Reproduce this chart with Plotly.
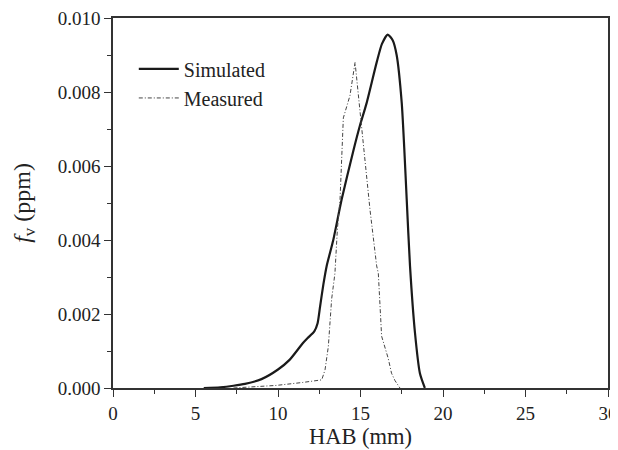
import plotly.graph_objects as go

# Simulated soot volume fraction (ppm) vs HAB (mm)
sim_hab = [5.5, 6.5, 7.3, 8.0, 9.0, 10.0, 10.7, 11.5, 11.8, 12.2, 12.4,
           12.55, 12.75, 12.95, 13.35, 13.86, 14.56, 14.97, 15.37, 15.98, 16.3,
           16.65, 16.95, 17.19, 17.5, 17.65, 17.8, 18.0, 18.3, 18.6, 18.9]
sim_fv = [0.0, 0.00002, 0.00006, 0.00011, 0.00024, 0.0005, 0.00076, 0.00121,
          0.00135, 0.00153, 0.00175, 0.0022, 0.0028, 0.0033, 0.0040,
          0.0051, 0.0064, 0.0071, 0.0077, 0.0088, 0.0093, 0.00955, 0.0094,
          0.0090, 0.0077, 0.0065, 0.0051, 0.0033, 0.0015, 0.0004, 0.0]

# Measured soot volume fraction (ppm) vs HAB (mm)
meas_hab = [7.3, 9.9, 11.5, 12.65, 12.85, 13.05, 13.25, 13.45, 13.6, 13.76,
            13.96, 14.36, 14.67, 14.87, 15.07, 15.27, 15.47, 15.58, 15.98,
            16.08, 16.28, 16.68, 16.88, 17.09, 17.39]
meas_fv = [0.0, 0.00007, 0.00015, 0.00022, 0.00049, 0.00112, 0.0024, 0.0031,
           0.0043, 0.0051, 0.0073, 0.0079, 0.0088, 0.0079, 0.0069, 0.0062,
           0.0051, 0.0048, 0.0033, 0.0031, 0.0014, 0.0008, 0.0004, 0.0002, 0.0]

x_ticks = [0, 5, 10, 15, 20, 25, 30]
y_ticks = [0.000, 0.002, 0.004, 0.006, 0.008, 0.010]
y_tick_labels = ["0.000", "0.002", "0.004", "0.006", "0.008", "0.010"]

FONT = "Liberation Serif, Times New Roman, serif"
AX = "#333333"

fig = go.Figure()
fig.add_trace(go.Scatter(
    x=sim_hab, y=sim_fv, mode="lines", name="Simulated",
    line=dict(color="#1a1a1a", width=2.2, shape="spline", smoothing=0.6),
))
fig.add_trace(go.Scatter(
    x=meas_hab, y=meas_fv, mode="lines", name="Measured",
    line=dict(color="#444444", width=1, dash="4px,2px,1px,2px"),
))

axis_common = dict(
    showgrid=False, zeroline=False, showline=True, linecolor=AX, linewidth=1.5,
    mirror=True, ticks="outside", ticklen=7, tickwidth=1.2, tickcolor=AX,
    tickfont=dict(family=FONT, size=19, color="#222222"), automargin=False,
    ticklabeloverflow="allow",
)

fig.update_xaxes(
    range=[0, 30], tickvals=x_ticks,
    minor=dict(ticks="outside", dtick=2.5, ticklen=4, tickwidth=1.2, tickcolor=AX),
    title=dict(text="HAB (mm)", font=dict(family=FONT, size=22.5, color="#222222"), standoff=6),
    **axis_common,
)
fig.update_yaxes(
    range=[0, 0.010], tickvals=y_ticks, ticktext=y_tick_labels,
    minor=dict(ticks="outside", dtick=0.001, ticklen=4, tickwidth=1.2, tickcolor=AX),
    title=dict(text="<i>f</i><sub>v</sub> (ppm)", font=dict(family=FONT, size=24, color="#222222"), standoff=20),
    **axis_common,
)

fig.update_layout(
    width=610, height=442,
    margin=dict(l=105, r=10, t=10, b=62),
    paper_bgcolor="white", plot_bgcolor="white",
    showlegend=True,
    legend=dict(
        x=0.042, y=0.915, xanchor="left", yanchor="top",
        bgcolor="rgba(255,255,255,0)", borderwidth=0,
        font=dict(family=FONT, size=20, color="#222222"),
        tracegroupgap=0, itemwidth=40,
    ),
)

fig.write_html("out.html")
